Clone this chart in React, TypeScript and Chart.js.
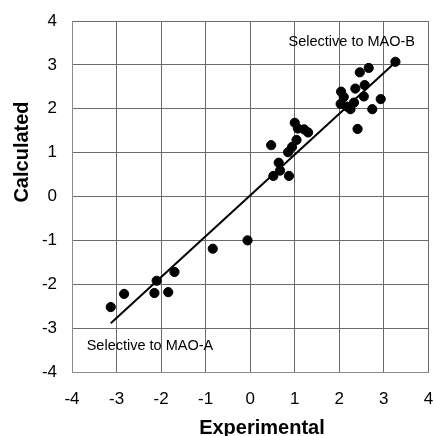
import React, { useEffect, useRef } from "react";
import { Chart, registerables } from "chart.js";

Chart.register(...registerables);

const experimental = [
  3.26, 2.66, 2.46, 2.36, 2.57, 2.55, 2.93, 2.04, 2.1, 2.03, 2.33, 2.25, 2.17, 2.74, 2.41,
  1.0, 1.07, 1.21, 1.3, 1.04, 0.47, 0.94, 0.85, 0.64, 0.67, 0.52, 0.87,
  -0.06, -0.84, -1.7, -2.1, -2.15, -1.84, -2.83, -3.13,
];
const calculated = [
  3.07, 2.93, 2.83, 2.46, 2.54, 2.28, 2.22, 2.39, 2.27, 2.11, 2.14, 1.99, 2.05, 1.99, 1.54,
  1.68, 1.55, 1.53, 1.46, 1.29, 1.17, 1.13, 1.01, 0.77, 0.59, 0.47, 0.47,
  -1.0, -1.19, -1.72, -1.92, -2.2, -2.18, -2.22, -2.52,
];
const fitX = [-3.13, 3.26];
const fitY = [-2.89, 3.06];
const tickValues = [-4, -3, -2, -1, 0, 1, 2, 3, 4];
const noteTexts = ["Selective to MAO-B", "Selective to MAO-A"];
const noteX = [0.86, -3.67];
const noteY = [3.53, -3.4];
const xTitle = "Experimental";
const yTitle = "Calculated";

const textPlugin = {
  id: "texts",
  afterDraw(chart: any) {
    const ctx = chart.ctx;
    const xs = chart.scales.x;
    const ys = chart.scales.y;
    const ca = chart.chartArea;
    ctx.save();
    ctx.fillStyle = "#000";
    ctx.font = "14.5px 'Liberation Sans', Arial, sans-serif";
    ctx.textAlign = "left";
    ctx.textBaseline = "middle";
    noteTexts.forEach((t, i) => {
      ctx.fillText(t, xs.getPixelForValue(noteX[i]), ys.getPixelForValue(noteY[i]));
    });
    ctx.font = "bold 20px 'Liberation Sans', Arial, sans-serif";
    ctx.textAlign = "center";
    ctx.fillText(xTitle, ca.left + (ca.right - ca.left) * 0.533, ca.bottom + 56);
    ctx.translate(ca.left - 50, ca.top + 131);
    ctx.rotate(-Math.PI / 2);
    ctx.fillText(yTitle, 0, 0);
    ctx.restore();
  },
};

export default function App() {
  const ref = useRef<HTMLCanvasElement>(null);
  useEffect(() => {
    if (!ref.current) return;
    const tickFont = { family: "'Liberation Sans', Arial, sans-serif", size: 17 };
    const chart = new Chart(ref.current, {
      type: "scatter",
      data: {
        datasets: [
          {
            data: experimental.map((x, i) => ({ x, y: calculated[i] })),
            backgroundColor: "#000",
            borderColor: "#000",
            pointRadius: 4.6,
            pointHoverRadius: 4.6,
          },
          {
            data: fitX.map((x, i) => ({ x, y: fitY[i] })),
            showLine: true,
            borderColor: "#000",
            borderWidth: 2,
            pointRadius: 0,
            fill: false,
          } as any,
        ],
      },
      options: {
        animation: false,
        responsive: false,
        maintainAspectRatio: false,
        layout: { padding: { top: 21, right: 5, left: 0, bottom: 0 } },
        plugins: { legend: { display: false }, tooltip: { enabled: false } },
        scales: {
          x: {
            type: "linear",
            min: -4,
            max: 4,
            afterBuildTicks: (s: any) => {
              s.ticks = tickValues.map((v) => ({ value: v }));
            },
            afterFit: (s: any) => {
              s.height = 64;
              s.paddingLeft = 0;
              s.paddingRight = 0;
            },
            grid: { color: "#6a6a6a", drawTicks: false, lineWidth: 1 },
            border: { color: "#8a8a8a" },
            ticks: { font: tickFont, color: "#000", padding: 17, maxRotation: 0 },
          },
          y: {
            type: "linear",
            min: -4,
            max: 4,
            afterBuildTicks: (s: any) => {
              s.ticks = tickValues.map((v) => ({ value: v }));
            },
            afterFit: (s: any) => {
              s.width = 72;
              s.paddingTop = 0;
              s.paddingBottom = 0;
            },
            grid: { color: "#6a6a6a", drawTicks: false, lineWidth: 1 },
            border: { color: "#8a8a8a" },
            ticks: { font: tickFont, color: "#000", padding: 15 },
          },
        },
      },
      plugins: [textPlugin],
    });
    return () => chart.destroy();
  }, []);
  return (
    <div style={{ position: "absolute", left: 0, top: 0, width: 434, height: 436, background: "#fff" }}>
      <canvas ref={ref} width={434} height={436} />
    </div>
  );
}
